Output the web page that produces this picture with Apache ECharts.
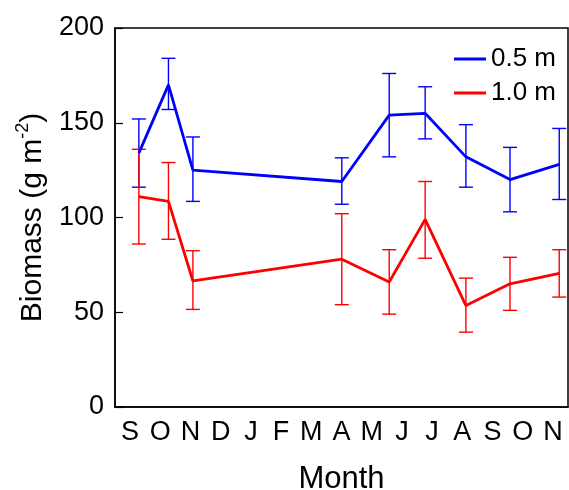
<!DOCTYPE html>
<html>
<head>
    <meta charset="UTF-8">
    <title>Biomass by month</title>
    <style>
        html, body { margin: 0; padding: 0; background: #fff; }
    </style>
</head>
<body>
    <div id="main" style="width: 569px;height:490px;"></div>
    <script src="https://cdn.jsdelivr.net/npm/echarts@6/dist/echarts.min.js"></script>
    <script type="text/javascript">
        // month labels along the x axis
        const months = ['S', 'O', 'N', 'D', 'J', 'F', 'M', 'A', 'M', 'J', 'J', 'A', 'S', 'O', 'N'];
        // sampling positions, in month units from the left edge
        const sampleX = [0.79, 1.77, 2.58, 7.51, 9.08, 10.27, 11.62, 13.08, 14.71];

        // 0.5 m depth
        const blueMean = [134, 170, 125, 119, 154, 155, 132, 120, 128];
        const blueLow = [116, 157, 108.5, 107, 132, 141.5, 116, 103, 109.5];
        const blueHigh = [152, 184, 142.5, 131.5, 176, 169, 149, 137, 147];

        // 1.0 m depth
        const redMean = [111, 108.5, 66.5, 78, 66, 99, 53.5, 65, 70.5];
        const redLow = [86, 88.5, 51.5, 54, 49, 78.5, 39.5, 51, 58];
        const redHigh = [136, 129, 82.5, 102, 83, 119, 68, 79, 83];

        const yTicks = [0, 50, 100, 150, 200];

        const font = 'Liberation Sans, Arial, sans-serif';
        const blue = '#0000ff';
        const red = '#ff0000';

        var myChart = echarts.init(document.getElementById('main'));

        function errBars(color) {
            return function (params, api) {
                const x = api.value(0);
                const lo = api.coord([x, api.value(1)]);
                const hi = api.coord([x, api.value(2)]);
                const w = 7;
                const style = { stroke: color, lineWidth: 1.4 };
                return {
                    type: 'group',
                    children: [
                        { type: 'line', shape: { x1: lo[0], y1: lo[1], x2: hi[0], y2: hi[1] }, style: style },
                        { type: 'line', shape: { x1: lo[0] - w, y1: lo[1], x2: lo[0] + w, y2: lo[1] }, style: style },
                        { type: 'line', shape: { x1: hi[0] - w, y1: hi[1], x2: hi[0] + w, y2: hi[1] }, style: style }
                    ]
                };
            };
        }

        const zip = (a, b) => a.map((v, i) => [v, b[i]]);
        const zip3 = (a, b, c) => a.map((v, i) => [v, b[i], c[i]]);

        let option = {
            animation: false,
            textStyle: { fontFamily: font },
            grid: {
                left: 115, right: 1, top: 28, bottom: 83,
                outerBoundsMode: 'none',
                containLabel: false,
                show: true, borderColor: '#000', borderWidth: 1.5
            },
            legend: {
                data: ['0.5 m', '1.0 m'],
                orient: 'vertical',
                left: 449,
                top: 41,
                icon: 'rect',
                itemWidth: 32,
                itemHeight: 3,
                itemGap: 8,
                textStyle: { fontSize: 26, lineHeight: 26, color: '#000', fontFamily: font }
            },
            xAxis: [{
                type: 'category',
                data: months,
                boundaryGap: true,
                name: 'Month',
                nameLocation: 'middle',
                nameGap: 57,
                nameTextStyle: { fontSize: 31, color: '#000', fontFamily: font },
                axisLine: { lineStyle: { color: '#000', width: 1.5 } },
                axisTick: { inside: true, length: 7, lineStyle: { color: '#000', width: 1.2 } },
                axisLabel: { fontSize: 27, color: '#000', margin: 12, interval: 0, fontFamily: font },
                splitLine: { show: false }
            }, {
                type: 'value',
                min: 0,
                max: months.length,
                show: false
            }],
            yAxis: {
                type: 'value',
                min: yTicks[0],
                max: yTicks[yTicks.length - 1],
                interval: 50,
                name: '{a|Biomass (g m}{s|-2}{a|)}',
                nameLocation: 'middle',
                nameGap: 67,
                nameTextStyle: {
                    rich: {
                        a: { fontSize: 30, color: '#000', fontFamily: font, lineHeight: 34, verticalAlign: 'bottom' },
                        s: { fontSize: 18, color: '#000', fontFamily: font, lineHeight: 34, verticalAlign: 'top' }
                    }
                },
                axisLine: { show: true, lineStyle: { color: '#000', width: 1.5 } },
                axisTick: { show: true, inside: true, length: 8, lineStyle: { color: '#000', width: 1.2 } },
                axisLabel: { fontSize: 27, color: '#000', margin: 11, fontFamily: font },
                splitLine: { show: false }
            },
            series: [{
                name: '0.5 m',
                type: 'line',
                xAxisIndex: 1,
                symbol: 'none',
                color: blue,
                lineStyle: { color: blue, width: 2.8 },
                data: zip(sampleX, blueMean),
                z: 3
            }, {
                name: '1.0 m',
                type: 'line',
                xAxisIndex: 1,
                symbol: 'none',
                color: red,
                lineStyle: { color: red, width: 2.8 },
                data: zip(sampleX, redMean),
                z: 3
            }, {
                name: 'err 0.5',
                type: 'custom',
                xAxisIndex: 1,
                renderItem: errBars(blue),
                encode: { x: 0, y: [1, 2] },
                data: zip3(sampleX, blueLow, blueHigh),
                z: 2
            }, {
                name: 'err 1.0',
                type: 'custom',
                xAxisIndex: 1,
                renderItem: errBars(red),
                encode: { x: 0, y: [1, 2] },
                data: zip3(sampleX, redLow, redHigh),
                z: 2
            }]
        };

        myChart.setOption(option);
    </script>
</body>
</html>
